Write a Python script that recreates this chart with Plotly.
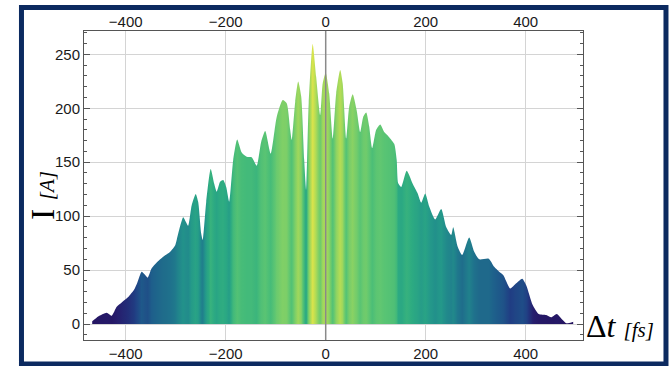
import plotly.graph_objects as go

# ---- data (time delay in fs, current in A) ----
dt_fs = [-467, -455, -438, -428, -418, -408, -395, -383, -377, -368, -361, -356,
         -348, -338, -325, -311, -301, -295, -285, -280, -275, -268, -260, -255,
         -249, -246, -239, -230, -223, -218, -211, -205, -199, -193, -185, -177,
         -168, -158, -148, -138, -129, -121, -110, -98, -86, -78, -71, -68, -61,
         -55, -49, -43, -39, -34, -26, -19, -11, -6, 0, 7, 14, 21, 29, 34, 41,
         47, 54, 62, 69, 75, 81, 87, 93, 101, 109, 117, 126, 137, 142, 145, 151,
         162, 174, 184, 191, 199, 207, 219, 231, 241, 251, 255, 264, 273, 287,
         297, 307, 326, 337, 347, 355, 369, 381, 393, 401, 414, 426, 441, 451,
         462, 474, 481, 491, 495]
current_A = [2.5, 7, 10.5, 7.7, 16, 20, 25, 32, 38, 48.5, 45.4, 43,
             51.6, 57, 62.4, 67, 73, 84, 99, 95, 91, 110, 120.5, 113,
             84, 78, 113, 143.7, 130, 122.7, 132, 133.5, 127, 113.4, 152, 171,
             159, 155, 154.5, 146.8, 169, 179, 158, 192, 207.7, 204.6, 180, 170.6, 206,
             224.7, 210.8, 152, 124, 204.6, 259.6, 229, 193.8, 223, 233, 214, 172, 214, 235.5, 223, 172,
             201.5, 213, 198, 178, 192, 196, 183, 163, 180, 185, 178, 173.7, 167, 152, 130.4, 127,
             142, 130, 121, 112.5, 121, 109, 97, 106.6, 90, 82.5, 89.6, 71.7, 64, 80.3,
             67, 60, 60.6, 53, 48.5, 45.4, 33, 37.7, 42, 36, 17.6, 9.3, 8.3, 6.2,
             9.3, 3.7, 0.8, 1.5, 2.2]

x_ticks = [-400, -200, 0, 200, 400]
y_ticks = [0, 50, 100, 150, 200, 250]

# colour map (blue-green-yellow) used to colour the stripes by height
CMAP = [(0.00, '#24135f'), (0.06, '#261c6c'), (0.13, '#203f84'), (0.20, '#1e5f8b'),
        (0.30, '#207f8c'), (0.40, '#23978a'), (0.50, '#2caa82'), (0.60, '#45bb79'),
        (0.70, '#5ec672'), (0.80, '#82d066'), (0.90, '#b4dc55'), (1.00, '#dee44a')]
CMAX = 261.0


def hex2rgb(h):
    h = h.lstrip('#')
    return [int(h[i:i + 2], 16) for i in (0, 2, 4)]


def cmap(v):
    v = max(0.0, min(1.0, v))
    for (p0, c0), (p1, c1) in zip(CMAP[:-1], CMAP[1:]):
        if v <= p1:
            t = (v - p0) / (p1 - p0) if p1 > p0 else 0
            a, b = hex2rgb(c0), hex2rgb(c1)
            r = [round(a[i] + (b[i] - a[i]) * t) for i in range(3)]
            return 'rgb(%d,%d,%d)' % tuple(r)
    return 'rgb(%d,%d,%d)' % tuple(hex2rgb(CMAP[-1][1]))


xmin, xmax = dt_fs[0], dt_fs[-1]
stops = []
SUB = 4
for i in range(len(dt_fs) - 1):
    x0, x1 = dt_fs[i], dt_fs[i + 1]
    y0, y1 = current_A[i], current_A[i + 1]
    for k in range(SUB):
        t = k / SUB
        xx = x0 + (x1 - x0) * t
        yy = y0 + (y1 - y0) * t
        stops.append([(xx - xmin) / (xmax - xmin), cmap(yy / CMAX)])
stops.append([1.0, cmap(current_A[-1] / CMAX)])

XR = [-483.4, 514.6]
YR = [-14.8, 271.6]

fig = go.Figure()
fig.add_trace(go.Scatter(
    x=dt_fs, y=current_A, mode='lines', fill='tozeroy',
    line=dict(width=0, color='rgba(0,0,0,0)', shape='spline', smoothing=0.6),
    fillgradient=dict(type='horizontal', colorscale=stops, start=xmin, stop=xmax),
    hoverinfo='skip', showlegend=False))
# invisible trace to carry the top axis
fig.add_trace(go.Scatter(x=[dt_fs[0]], y=[current_A[0]], xaxis='x2', mode='markers',
                         marker=dict(opacity=0), hoverinfo='skip', showlegend=False))

tickfont = dict(family='Liberation Sans, Arial, sans-serif', size=15, color='#1a1a1a')
fig.update_layout(
    width=672, height=366, autosize=False,
    margin=dict(l=84, r=89, t=31, b=26, autoexpand=False),
    paper_bgcolor='white', plot_bgcolor='white',
    xaxis=dict(range=XR, tickvals=x_ticks, showgrid=True, gridcolor='#d4d4d4', gridwidth=1,
               zeroline=False, showline=True, linecolor='#555555', linewidth=1, mirror=True,
               ticks='', tickfont=tickfont, automargin=False),
    xaxis2=dict(range=XR, tickvals=x_ticks, overlaying='x', side='top', anchor='y',
                showgrid=False, zeroline=False, showline=False, ticks='', tickfont=tickfont,
                automargin=False),
    yaxis=dict(range=YR, tickvals=y_ticks, showgrid=True, gridcolor='#d4d4d4', gridwidth=1,
               zeroline=False, showline=True, linecolor='#555555', linewidth=1,
               mirror='ticks', ticks='inside', ticklen=6, tickcolor='#555555',
               minor=dict(dtick=10, tick0=0, ticks='inside', ticklen=3, tickcolor='#555555',
                          showgrid=False),
               tickfont=tickfont, automargin=False),
    shapes=[
        dict(type='line', xref='x', yref='paper', x0=0, x1=0, y0=0, y1=1,
             line=dict(color='#8a8a8a', width=1.5), layer='above'),
        dict(type='rect', xref='paper', yref='paper', x0=-0.1253, x1=1.1663,
             y0=-0.0777, y1=1.0761, line=dict(color='#0c2a60', width=5),
             fillcolor='rgba(0,0,0,0)', layer='above'),
    ],
    annotations=[
        dict(xref='paper', yref='paper', x=-0.0842, y=0.469, showarrow=False,
             textangle=-90, xanchor='center', yanchor='middle',
             text="I <span style='font-size:21px'><i>[A]</i></span>",
             font=dict(family='Liberation Serif, DejaVu Serif, serif', size=34, color='black')),
        dict(xref='paper', yref='paper', x=1.0741, y=0.045, showarrow=False,
             xanchor='center', yanchor='middle',
             text="Δ<i>t</i> <span style='font-size:21px'><i>[fs]</i></span>",
             font=dict(family='Liberation Serif, DejaVu Serif, serif', size=32, color='black')),
    ],
)

fig.write_html('out.html',
               config={'displayModeBar': False, 'responsive': False},
               default_width='672px', default_height='366px',
               post_script="document.body.style.margin='0';document.body.style.overflow='hidden';")
